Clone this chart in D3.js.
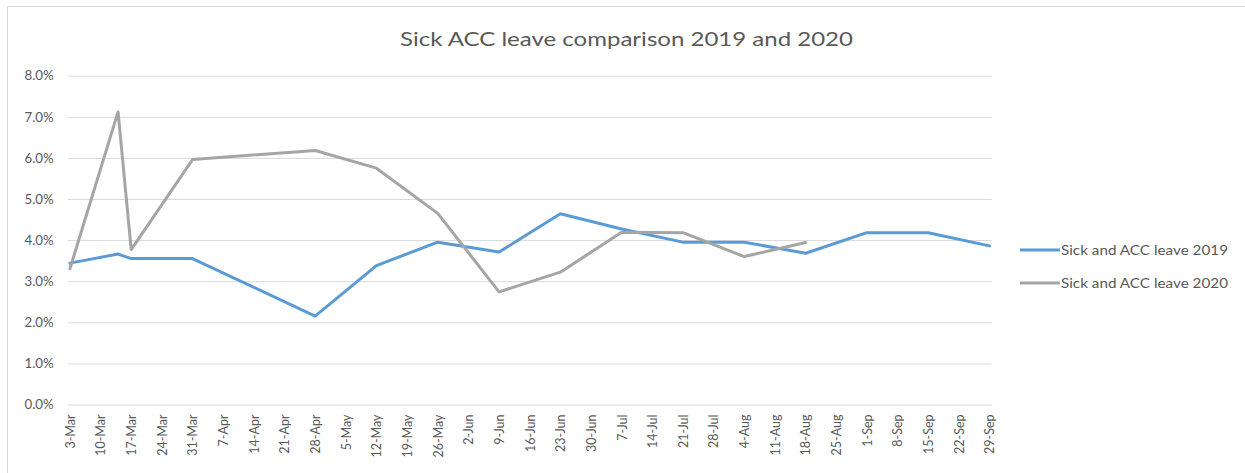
<!DOCTYPE html>
<html>
<head>
<meta charset="utf-8">
<script src="https://cdn.jsdelivr.net/npm/d3@7"></script>
<style>
  body { margin: 0; background: #fff; }
  svg { display: block; font-family: Lato, "Open Sans", sans-serif; }
</style>
</head>
<body>
<svg id="chart" width="1245" height="473"></svg>
<script>
'use strict';

const tickLabels = ["3-Mar","10-Mar","17-Mar","24-Mar","31-Mar","7-Apr","14-Apr","21-Apr","28-Apr",
    "5-May","12-May","19-May","26-May","2-Jun","9-Jun","16-Jun","23-Jun","30-Jun","7-Jul","14-Jul",
    "21-Jul","28-Jul","4-Aug","11-Aug","18-Aug","25-Aug","1-Sep","8-Sep","15-Sep","22-Sep","29-Sep"];
const yTicks = [0, 1, 2, 3, 4, 5, 6, 7, 8];

const dates2019 = ["3-Mar","14-Mar","17-Mar","31-Mar","28-Apr","12-May","26-May","9-Jun","23-Jun",
    "7-Jul","21-Jul","4-Aug","18-Aug","1-Sep","15-Sep","29-Sep"];
const values2019 = [3.44, 3.66, 3.55, 3.55, 2.15, 3.38, 3.95, 3.71, 4.64, 4.27, 3.95, 3.95, 3.68, 4.18, 4.18, 3.86];

const dates2020 = ["3-Mar","14-Mar","17-Mar","31-Mar","28-Apr","12-May","26-May","9-Jun","23-Jun",
    "7-Jul","21-Jul","4-Aug","18-Aug"];
const values2020 = [3.30, 7.12, 3.77, 5.96, 6.18, 5.75, 4.65, 2.74, 3.22, 4.19, 4.18, 3.60, 3.94];

const seriesNames = ["Sick and ACC leave 2019", "Sick and ACC leave 2020"];
const seriesColors = ["#5b9bd5", "#a5a5a5"];

// all on one date axis, year is arbitrary
const parseDay = s => d3.utcParse("%d-%b-%Y")(s + "-2019");
const halfDay = 12 * 3600 * 1000;

const svg = d3.select("#chart");

// chart outline (cropped at the right and bottom)
svg.append("rect")
    .attr("x", 7.5).attr("y", 6.5)
    .attr("width", 1260).attr("height", 490)
    .attr("fill", "none")
    .attr("stroke", "#d9d9d9");

const tickDates = tickLabels.map(parseDay);
const x = d3.scaleUtc()
    .domain([new Date(+tickDates[0] - halfDay), new Date(+tickDates[tickDates.length - 1] + halfDay)])
    .range([67.7, 991.7]);
const y = d3.scaleLinear().domain([0, 8]).range([404.5, 75.7]);

// gridlines + y labels
const yAxis = svg.append("g")
    .attr("transform", `translate(${x.range()[0]},0)`)
    .call(d3.axisLeft(y).tickValues(yTicks)
        .tickSize(-(x.range()[1] - x.range()[0]))
        .tickPadding(14)
        .tickFormat(d => d.toFixed(1) + "%"));
yAxis.select(".domain").remove();
yAxis.selectAll("line").attr("stroke", "#d9d9d9");
yAxis.selectAll("text")
    .attr("fill", "#595959")
    .attr("font-size", "13.3px")
    .attr("font-family", "Lato, sans-serif");

// x labels
const xAxis = svg.append("g")
    .attr("transform", `translate(0,${y(0)})`)
    .call(d3.axisBottom(x).tickValues(tickDates).tickSize(0)
        .tickFormat(d3.utcFormat("%-d-%b")));
xAxis.select(".domain").remove();
xAxis.selectAll("text")
    .attr("fill", "#595959")
    .attr("font-size", "12.5px")
    .attr("font-family", "Lato, sans-serif")
    .attr("text-anchor", "end")
    .attr("transform", "rotate(-90)")
    .attr("x", -10)
    .attr("y", 0)
    .attr("dy", "0.35em");

// lines
const series = [
    dates2019.map((d, i) => ({date: parseDay(d), value: values2019[i]})),
    dates2020.map((d, i) => ({date: parseDay(d), value: values2020[i]}))
];
const line = d3.line().x(d => x(d.date)).y(d => y(d.value));

svg.selectAll(".series")
    .data(series)
    .enter().append("path")
    .attr("class", "series")
    .attr("d", line)
    .attr("fill", "none")
    .attr("stroke", (d, i) => seriesColors[i])
    .attr("stroke-width", 3)
    .attr("stroke-linejoin", "round")
    .attr("stroke-linecap", "round");

// title
svg.append("text")
    .attr("x", 626.5)
    .attr("y", 46)
    .attr("text-anchor", "middle")
    .attr("font-size", "20px")
    .attr("fill", "#595959")
    .attr("textLength", 453)
    .attr("lengthAdjust", "spacingAndGlyphs")
    .text("Sick ACC leave comparison 2019 and 2020");

// legend
const legend = svg.selectAll(".legend")
    .data(seriesNames)
    .enter().append("g")
    .attr("class", "legend")
    .attr("transform", (d, i) => `translate(1020,${250 + i * 33})`);
legend.append("line")
    .attr("x1", 0).attr("x2", 40)
    .attr("stroke", (d, i) => seriesColors[i])
    .attr("stroke-width", 3);
legend.append("text")
    .attr("x", 41)
    .attr("dy", "0.35em")
    .attr("font-size", "13px")
    .attr("fill", "#595959")
    .attr("textLength", 167)
    .attr("lengthAdjust", "spacingAndGlyphs")
    .text(d => d);
</script>
</body>
</html>
